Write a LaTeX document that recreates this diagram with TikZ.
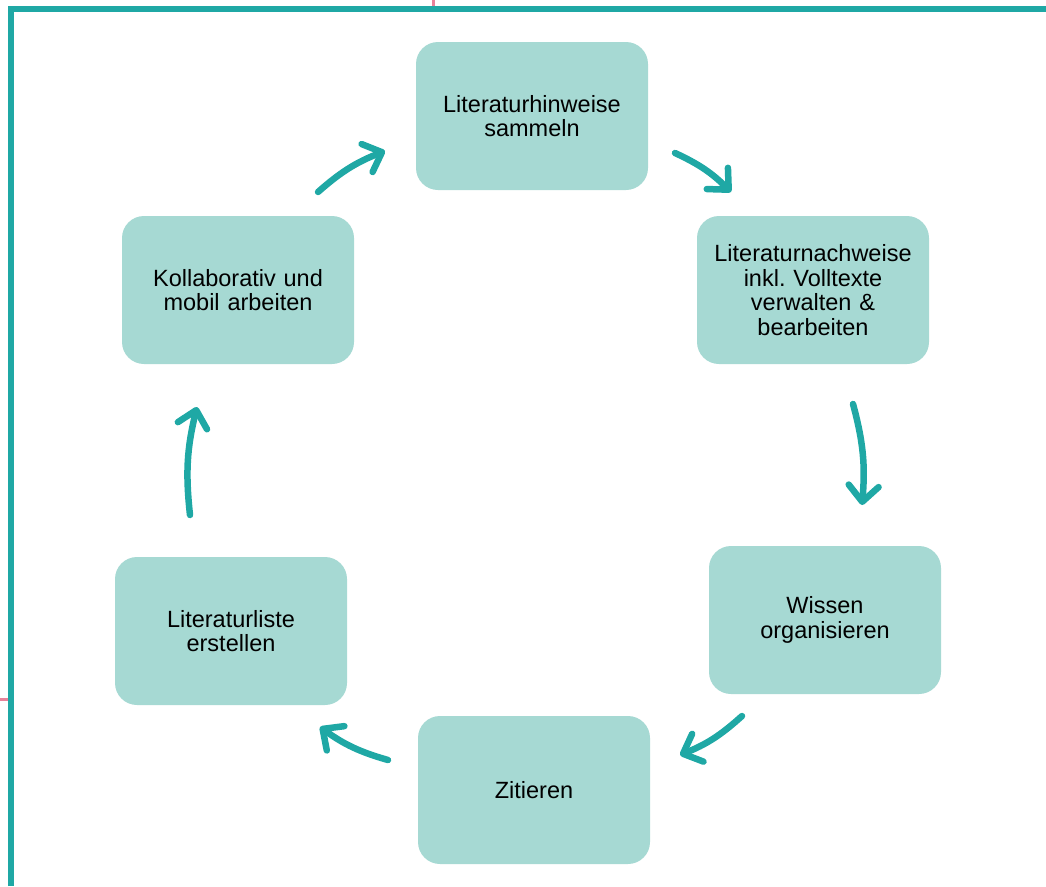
\documentclass[tikz,border=0pt]{standalone}
\usepackage{fontspec}
\setmainfont{Liberation Sans}
\usetikzlibrary{arrows.meta}
\definecolor{boxfill}{HTML}{A6D9D3}
\definecolor{teal}{HTML}{1FA8A5}
\definecolor{pinkish}{HTML}{E8829A}
\definecolor{redmark}{HTML}{C8102E}
\tikzset{
  stepbox/.style={rectangle, rounded corners=22pt, fill=boxfill, draw=none,
    minimum width=232pt, minimum height=148pt, align=center, text width=215pt,
    font=\fontsize{23.5pt}{24.5pt}\selectfont},
  cyclearrow/.style={draw=teal, line width=6.5pt, line cap=round,
    -{Straight Barb[length=16pt,width=30pt,line cap=round,line join=round]}, bend left=10},
  frame/.style={draw=teal, line width=6pt}
}
\frenchspacing
\begin{document}
\begin{tikzpicture}[x=1pt,y=-1pt]
\useasboundingbox (0,0) rectangle (1046,886);
% frame and page remnants
\fill[redmark] (0,0) -- (10,0) arc[start angle=0,end angle=-70,radius=10] -- cycle;
\draw[pinkish, line width=3pt] (433,0) -- (433,7);
\draw[pinkish, line width=3pt] (0,699) -- (9,699);
\draw[frame] (11,886) -- (11,9) -- (1046,9);
% boxes
\node[stepbox] (n1) at (532,116) {Literaturhinweise\\sammeln};
\node[stepbox] (n2) at (813,290) {Literaturnachweise\\inkl. Volltexte\\verwalten \&\\bearbeiten};
\node[stepbox] (n3) at (825,620) {Wissen\\organisieren};
\node[stepbox] (n4) at (534,790) {Zitieren};
\node[stepbox] (n5) at (231,631) {Literaturliste\\erstellen};
\node[stepbox] (n6) at (238,290) {Kollaborativ und\\mobil arbeiten};
% arrow end points
\coordinate (a1s) at (675,153); \coordinate (a1e) at (731,192);
\coordinate (a2s) at (853,404); \coordinate (a2e) at (862,505);
\coordinate (a3s) at (742,716); \coordinate (a3e) at (680,755);
\coordinate (a4s) at (388,760); \coordinate (a4e) at (320,727);
\coordinate (a5s) at (190,515); \coordinate (a5e) at (197,407);
\coordinate (a6s) at (318,192); \coordinate (a6e) at (385,151);
\draw[cyclearrow] (a1s) to (a1e);
\draw[cyclearrow] (a2s) to (a2e);
\draw[cyclearrow] (a3s) to (a3e);
\draw[cyclearrow] (a4s) to (a4e);
\draw[cyclearrow] (a5s) to (a5e);
\draw[cyclearrow] (a6s) to (a6e);
\end{tikzpicture}
\end{document}
